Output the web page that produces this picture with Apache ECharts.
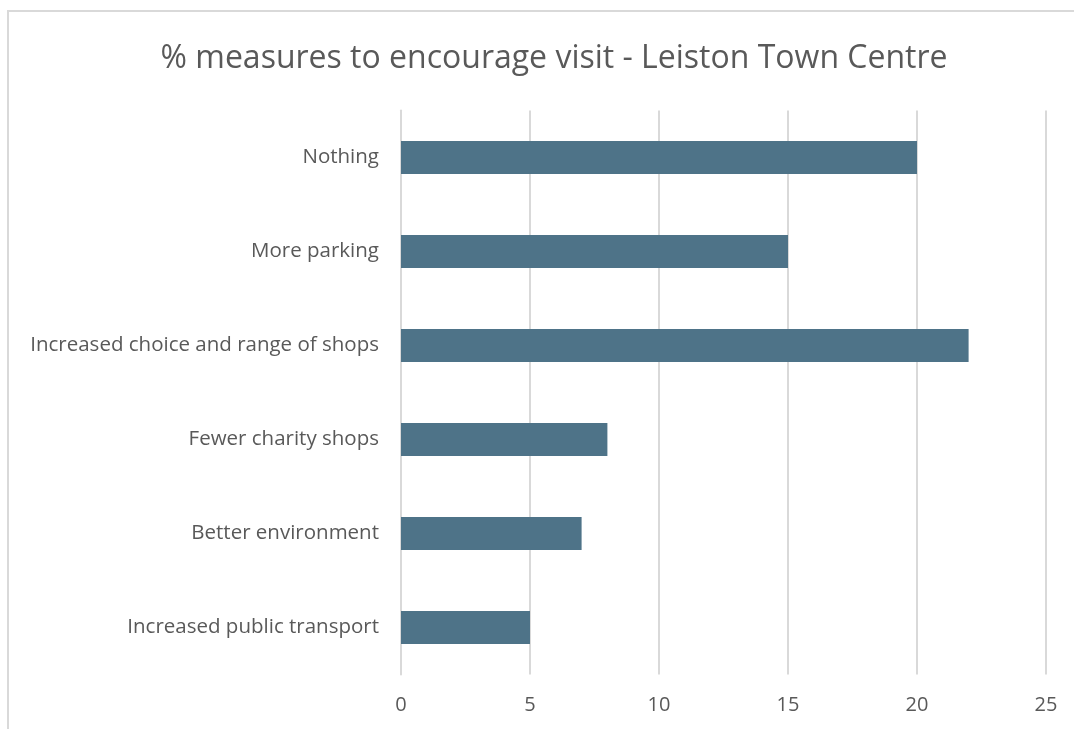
<!DOCTYPE html>
<html>
<head>
<meta charset="utf-8">
<style>
    html, body { margin: 0; padding: 0; background: #fff; }
    #chart { width: 1074px; height: 729px; }
</style>
<script src="https://cdn.jsdelivr.net/npm/echarts@6/dist/echarts.min.js"></script>
</head>
<body>
<div id="chart"></div>
<script>
    // categories bottom -> top (category axis on y starts at the bottom)
    var categories = [
        'Increased public transport',
        'Better environment',
        'Fewer charity shops',
        'Increased choice and range of shops',
        'More parking',
        'Nothing'
    ];
    var values = [5, 7, 8, 22, 15, 20];
    var xTicks = [0, 5, 10, 15, 20, 25];

    var chart = echarts.init(document.getElementById('chart'));
    var option = {
        animation: false,
        backgroundColor: '#fff',
        textStyle: { fontFamily: 'Open Sans' },
        title: {
            text: '% measures to encourage visit - Leiston Town Centre',
            left: 549,
            top: 38,
            textAlign: 'center',
            textStyle: {
                fontFamily: 'Open Sans',
                fontSize: 32,
                fontWeight: 'normal',
                color: '#595959'
            }
        },
        graphic: [{
            type: 'rect',
            shape: { x: 8, y: 11, width: 1100, height: 760 },
            style: { fill: 'none', stroke: '#d9d9d9', lineWidth: 2 },
            silent: true
        }],
        grid: {
            left: 401,
            right: 28,
            top: 110.5,
            bottom: 54.5,
            containLabel: false
        },
        xAxis: {
            type: 'value',
            min: xTicks[0],
            max: xTicks[xTicks.length - 1],
            interval: 5,
            axisLine: { show: false },
            axisTick: { show: false },
            axisLabel: {
                color: '#595959',
                fontSize: 20,
                margin: 21
            },
            splitLine: { lineStyle: { color: '#d9d9d9', width: 2 } }
        },
        yAxis: {
            type: 'category',
            data: categories,
            axisLine: { show: true, lineStyle: { color: '#d9d9d9', width: 2 } },
            axisTick: { show: false },
            axisLabel: {
                color: '#595959',
                fontSize: 20.5,
                margin: 22
            }
        },
        series: [{
            type: 'bar',
            data: values,
            barWidth: '35%',
            itemStyle: { color: '#4e7388' }
        }]
    };
    chart.setOption(option);
</script>
</body>
</html>
